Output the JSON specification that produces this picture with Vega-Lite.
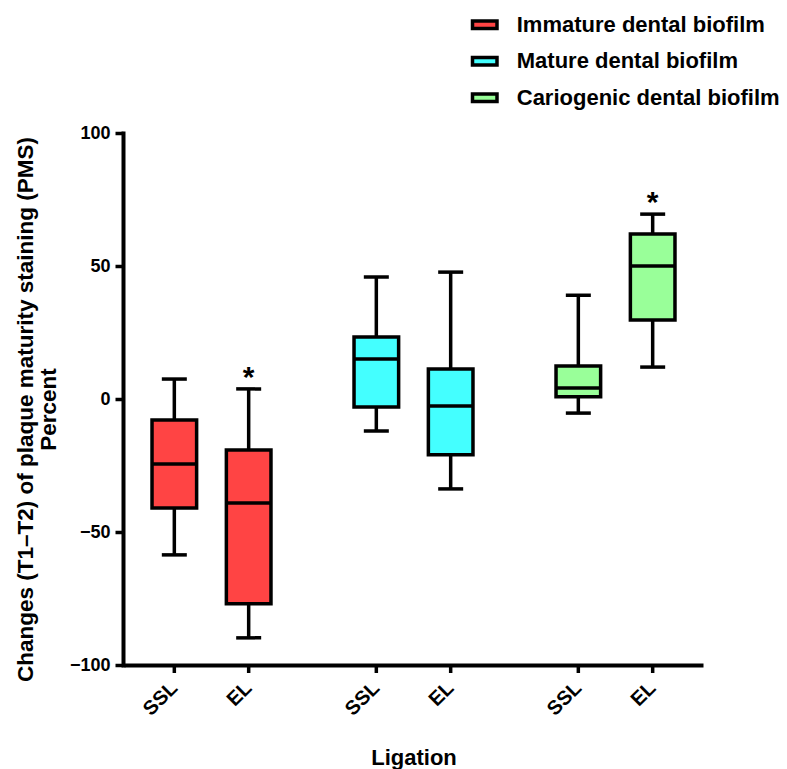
{
  "$schema": "https://vega.github.io/schema/vega-lite/v6.json",
  "autosize": {"type": "none"},
  "padding": {"left": 123, "top": 133, "right": 89, "bottom": 104},
  "width": 575,
  "height": 532,
  "config": {
    "font": "Liberation Sans",
    "view": {"stroke": null},
    "background": "white",
    "axis": {
      "domainColor": "black",
      "domainWidth": 4,
      "domainCap": "square",
      "tickColor": "black",
      "tickWidth": 3.5,
      "tickSize": 8,
      "labelFont": "Liberation Sans",
      "labelFontSize": 18,
      "labelFontWeight": "bold",
      "labelColor": "black",
      "titleFont": "Liberation Sans",
      "titleFontWeight": "bold",
      "titleColor": "black",
      "grid": false
    }
  },
  "data": {
    "values": [
      {"group": "Immature dental biofilm", "lig": "SSL", "lower": -58.6, "q1": -41, "median": -24.4, "q3": -7.9, "upper": 7.5, "sig": ""},
      {"group": "Immature dental biofilm", "lig": "EL", "lower": -89.8, "q1": -77, "median": -39.1, "q3": -19.2, "upper": 3.8, "sig": "*"},
      {"group": "Mature dental biofilm", "lig": "SSL", "lower": -12, "q1": -3, "median": 15, "q3": 23.3, "upper": 45.9, "sig": ""},
      {"group": "Mature dental biofilm", "lig": "EL", "lower": -33.8, "q1": -21, "median": -2.6, "q3": 11.3, "upper": 47.7, "sig": ""},
      {"group": "Cariogenic dental biofilm", "lig": "SSL", "lower": -5.3, "q1": 0.8, "median": 4.1, "q3": 12.4, "upper": 39, "sig": ""},
      {"group": "Cariogenic dental biofilm", "lig": "EL", "lower": 12, "q1": 29.7, "median": 50, "q3": 62, "upper": 69.5, "sig": "*"}
    ]
  },
  "encoding": {
    "x": {
      "field": "group",
      "type": "nominal",
      "sort": ["Immature dental biofilm", "Mature dental biofilm", "Cariogenic dental biofilm"],
      "scale": {"range": [3, 578], "paddingInner": 0.1535, "paddingOuter": 0},
      "axis": {
        "title": "Ligation",
        "labels": false,
        "ticks": false,
        "domainColor": "black",
        "domainWidth": 4,
        "domainCap": "square",
        "titleFontSize": 22,
        "titleBaseline": "alphabetic",
        "titleY": 99
      }
    },
    "xOffset": {
      "field": "lig",
      "type": "nominal",
      "sort": ["SSL", "EL"],
      "scale": {"paddingInner": 0.4, "paddingOuter": 0.35}
    }
  },
  "layer": [
    {
      "mark": {"type": "rule", "color": "black", "strokeWidth": 3.5},
      "encoding": {
        "y": {
          "field": "lower",
          "type": "quantitative",
          "scale": {"domain": [-100, 100], "nice": false, "zero": false},
          "axis": {
            "title": ["Changes (T1–T2) of plaque maturity staining (PMS)", "Percent"],
            "values": [-100, -50, 0, 50, 100],
            "domainColor": "black",
            "domainWidth": 4,
            "domainCap": "square",
            "tickColor": "black",
            "tickWidth": 3.5,
            "tickSize": 8,
            "labelFontSize": 18,
            "labelPadding": 5,
            "titleFontSize": 22.5,
            "titleAngle": 270,
            "titleAlign": "center",
            "titleBaseline": "alphabetic",
            "titleLineHeight": 23,
            "titleX": -91,
            "titleY": 276
          }
        },
        "y2": {"field": "upper"}
      }
    },
    {
      "mark": {"type": "tick", "color": "black", "size": 25, "thickness": 3.5, "opacity": 1},
      "encoding": {"y": {"field": "lower", "type": "quantitative"}}
    },
    {
      "mark": {"type": "tick", "color": "black", "size": 25, "thickness": 3.5, "opacity": 1},
      "encoding": {"y": {"field": "upper", "type": "quantitative"}}
    },
    {
      "mark": {"type": "bar", "stroke": "black", "strokeWidth": 3.5, "opacity": 1},
      "encoding": {
        "y": {"field": "q1", "type": "quantitative"},
        "y2": {"field": "q3"},
        "color": {
          "field": "group",
          "type": "nominal",
          "scale": {
            "domain": ["Immature dental biofilm", "Mature dental biofilm", "Cariogenic dental biofilm"],
            "range": ["#FF4444", "#44FFFF", "#99FF99"]
          },
          "legend": {
            "title": null,
            "orient": "none",
            "legendX": 347.75,
            "legendY": -122.25,
            "symbolType": "M-1,-0.3H1V0.3H-1Z",
            "symbolSize": 600,
            "symbolStrokeColor": "black",
            "symbolStrokeWidth": 3.5,
            "symbolOpacity": 1,
            "labelFont": "Liberation Sans",
            "labelFontSize": 22,
            "labelFontWeight": "bold",
            "labelColor": "black",
            "labelOffset": 18,
            "labelLimit": 400,
            "rowPadding": 11.5
          }
        }
      }
    },
    {
      "mark": {"type": "tick", "color": "black", "size": 44, "thickness": 3.5, "opacity": 1},
      "encoding": {"y": {"field": "median", "type": "quantitative"}}
    },
    {
      "mark": {"type": "rule", "color": "black", "strokeWidth": 3.5, "y2Offset": 8},
      "encoding": {
        "y": {"datum": -100, "type": "quantitative"},
        "y2": {"datum": -100}
      }
    },
    {
      "mark": {"type": "text", "angle": 315, "align": "right", "baseline": "middle", "yOffset": 20, "fontSize": 20, "fontWeight": "bold", "color": "black", "font": "Liberation Sans"},
      "encoding": {
        "y": {"datum": -100, "type": "quantitative"},
        "text": {"field": "lig"}
      }
    },
    {
      "mark": {"type": "text", "baseline": "alphabetic", "yOffset": -2, "fontSize": 30, "fontWeight": "bold", "color": "black", "font": "Liberation Sans"},
      "encoding": {
        "y": {"field": "upper", "type": "quantitative"},
        "text": {"field": "sig"}
      }
    }
  ]
}
